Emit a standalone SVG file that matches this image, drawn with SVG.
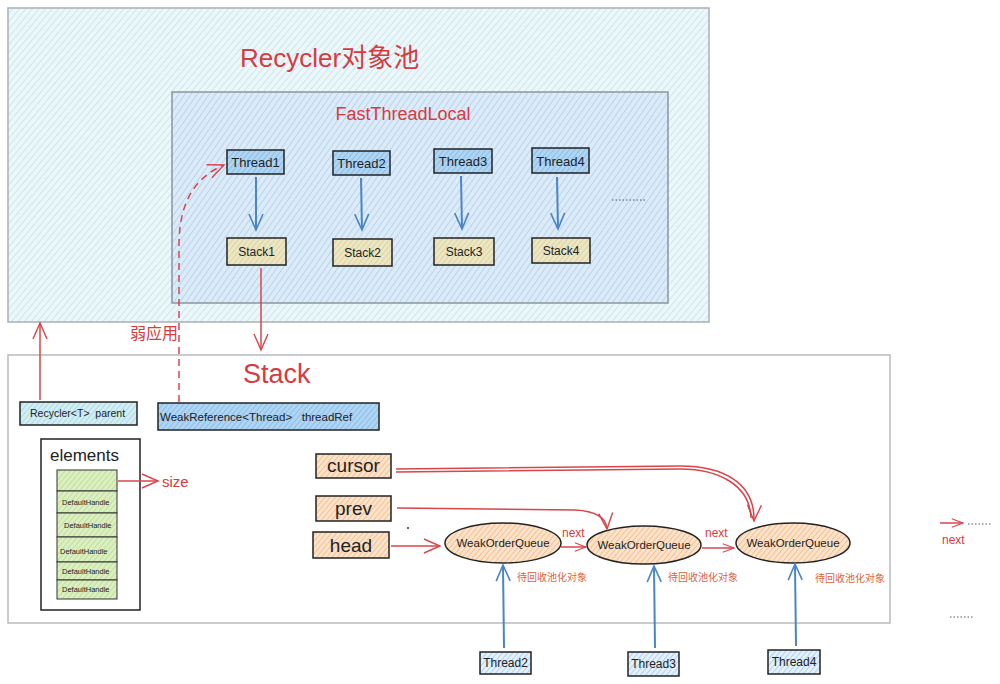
<svg xmlns="http://www.w3.org/2000/svg" width="1000" height="684" viewBox="0 0 1000 684">
<defs>
<pattern id="hOuter" width="5" height="5" patternUnits="userSpaceOnUse" patternTransform="rotate(40)"><rect width="5" height="5" fill="#ecf7fa"/><line x1="0" y1="0" x2="0" y2="5" stroke="#c4e4ee" stroke-width="1.6"/></pattern>
<pattern id="hInner" width="5" height="5" patternUnits="userSpaceOnUse" patternTransform="rotate(35)"><rect width="5" height="5" fill="#dcebf8"/><line x1="0" y1="0" x2="0" y2="5" stroke="#b6d1ec" stroke-width="1.8"/></pattern>
<pattern id="hThread" width="4" height="4" patternUnits="userSpaceOnUse" patternTransform="rotate(40)"><rect width="4" height="4" fill="#b0d5f3"/><line x1="0" y1="0" x2="0" y2="4" stroke="#7fb6e6" stroke-width="1.5"/></pattern>
<pattern id="hThreadB" width="4" height="4" patternUnits="userSpaceOnUse" patternTransform="rotate(40)"><rect width="4" height="4" fill="#e4f0fb"/><line x1="0" y1="0" x2="0" y2="4" stroke="#9fc8ee" stroke-width="1.5"/></pattern>
<pattern id="hStack" width="4" height="4" patternUnits="userSpaceOnUse" patternTransform="rotate(40)"><rect width="4" height="4" fill="#ece6c4"/><line x1="0" y1="0" x2="0" y2="4" stroke="#d6cf95" stroke-width="1.5"/></pattern>
<pattern id="hCyan" width="4" height="4" patternUnits="userSpaceOnUse" patternTransform="rotate(40)"><rect width="4" height="4" fill="#d3eef3"/><line x1="0" y1="0" x2="0" y2="4" stroke="#9fd5e2" stroke-width="1.5"/></pattern>
<pattern id="hGreen" width="4" height="4" patternUnits="userSpaceOnUse" patternTransform="rotate(40)"><rect width="4" height="4" fill="#dcefc3"/><line x1="0" y1="0" x2="0" y2="4" stroke="#b5dc8c" stroke-width="1.5"/></pattern>
<pattern id="hOrange" width="4" height="4" patternUnits="userSpaceOnUse" patternTransform="rotate(40)"><rect width="4" height="4" fill="#fbe2cb"/><line x1="0" y1="0" x2="0" y2="4" stroke="#f2b77f" stroke-width="1.5"/></pattern>
<marker id="aRed" viewBox="0 0 20 20" refX="18" refY="10" markerWidth="20" markerHeight="20" markerUnits="userSpaceOnUse" orient="auto"><path d="M2,3 L18,10 L2,17" fill="none" stroke="#d9454a" stroke-width="1.4"/></marker>
<marker id="aRedS" viewBox="0 0 20 20" refX="18" refY="10" markerWidth="14" markerHeight="14" markerUnits="userSpaceOnUse" orient="auto"><path d="M2,4 L18,10 L2,16" fill="none" stroke="#d9454a" stroke-width="1.6"/></marker>
<marker id="aBlue" viewBox="0 0 20 20" refX="18" refY="10" markerWidth="20" markerHeight="20" markerUnits="userSpaceOnUse" orient="auto"><path d="M2,3 L18,10 L2,17" fill="none" stroke="#4a86c5" stroke-width="1.6"/></marker>
</defs>
<style>
.lbl{font-family:"Liberation Sans",Arial,sans-serif;fill:#222;}
.red{font-family:"Liberation Sans","Noto Sans CJK SC",sans-serif;fill:#d63b40;}
.cjk{font-family:"Noto Sans CJK SC",sans-serif;}
.box{stroke:#222;stroke-width:1.5;}
.rl{fill:none;stroke:#d9454a;stroke-width:1.5;}
.bl{fill:none;stroke:#4a86c5;stroke-width:2;}
.dots{fill:none;stroke:#555;stroke-width:1.2;stroke-dasharray:1.5 2;}
</style>
<g id="recycler">
<rect x="8" y="8" width="701" height="314" fill="url(#hOuter)" stroke="#aab0b4" stroke-width="1.5"/>
<text class="red" x="240" y="67" font-size="26">Recycler对象池</text>
</g>
<g id="fastThreadLocal">
<rect x="172" y="92" width="496" height="211" fill="url(#hInner)" stroke="#8c979e" stroke-width="1.5"/>
<text class="red" x="403" y="120" font-size="18" text-anchor="middle">FastThreadLocal</text>
<line class="dots" x1="612" y1="200" x2="645" y2="200"/>
</g>
<g id="thread1"><rect class="box" x="227" y="150" width="57" height="24" fill="url(#hThread)"/><text class="lbl" x="255.5" y="167" font-size="13" text-anchor="middle">Thread1</text></g>
<g id="thread2"><rect class="box" x="333" y="151" width="57" height="24" fill="url(#hThread)"/><text class="lbl" x="361.5" y="168" font-size="13" text-anchor="middle">Thread2</text></g>
<g id="thread3"><rect class="box" x="434" y="149" width="58" height="24" fill="url(#hThread)"/><text class="lbl" x="463" y="166" font-size="13" text-anchor="middle">Thread3</text></g>
<g id="thread4"><rect class="box" x="532" y="148" width="57" height="25" fill="url(#hThread)"/><text class="lbl" x="560.5" y="165.5" font-size="13" text-anchor="middle">Thread4</text></g>
<g id="stack1"><rect class="box" x="227" y="238" width="59" height="27" fill="url(#hStack)"/><text class="lbl" x="256.5" y="256" font-size="12" text-anchor="middle">Stack1</text></g>
<g id="stack2"><rect class="box" x="333" y="239" width="59" height="27" fill="url(#hStack)"/><text class="lbl" x="362.5" y="257" font-size="12" text-anchor="middle">Stack2</text></g>
<g id="stack3"><rect class="box" x="434" y="238" width="60" height="27" fill="url(#hStack)"/><text class="lbl" x="464" y="256" font-size="12" text-anchor="middle">Stack3</text></g>
<g id="stack4"><rect class="box" x="532" y="238" width="58" height="25" fill="url(#hStack)"/><text class="lbl" x="561" y="255" font-size="12" text-anchor="middle">Stack4</text></g>
<g id="stack">
<rect x="8" y="355" width="882" height="268" fill="#ffffff" stroke="#b8bcbf" stroke-width="1.5"/>
<text class="red" x="243" y="383" font-size="27">Stack</text>
</g>
<g id="parent"><rect class="box" x="20" y="402" width="117" height="23" fill="url(#hCyan)"/><text class="lbl" x="30" y="417" font-size="10.5" xml:space="preserve">Recycler&lt;T&gt;  parent</text></g>
<g id="threadRef"><rect class="box" x="158" y="403" width="221" height="27" fill="url(#hThread)"/><text class="lbl" x="160" y="421" font-size="11.5" xml:space="preserve">WeakReference&lt;Thread&gt;   threadRef</text></g>
<g id="elements">
<rect x="41" y="439" width="99" height="171" fill="#ffffff" stroke="#222" stroke-width="1.5"/>
<text class="lbl" x="50" y="461" font-size="17">elements</text>
<rect x="57" y="470" width="60" height="21" fill="url(#hGreen)" stroke="#333" stroke-width="1"/>
<rect x="57" y="491" width="60" height="22" fill="url(#hGreen)" stroke="#333" stroke-width="1"/>
<rect x="57" y="513" width="60" height="24" fill="url(#hGreen)" stroke="#333" stroke-width="1"/>
<rect x="57" y="537" width="60" height="25" fill="url(#hGreen)" stroke="#333" stroke-width="1"/>
<rect x="57" y="562" width="60" height="18" fill="url(#hGreen)" stroke="#333" stroke-width="1"/>
<rect x="57" y="580" width="60" height="19" fill="url(#hGreen)" stroke="#333" stroke-width="1"/>
<text class="lbl" x="62" y="505" font-size="7.5">DefaultHandle</text>
<text class="lbl" x="64" y="528" font-size="7.5">DefaultHandle</text>
<text class="lbl" x="60" y="554" font-size="7.5">DefaultHandle</text>
<text class="lbl" x="62" y="574" font-size="7.5">DefaultHandle</text>
<text class="lbl" x="62" y="592" font-size="7.5">DefaultHandle</text>
<text class="red" x="162" y="487" font-size="15">size</text>
</g>
<g id="cursor"><rect class="box" x="316" y="454" width="75" height="24" fill="url(#hOrange)"/><text class="lbl" x="353.5" y="472" font-size="19" text-anchor="middle">cursor</text></g>
<g id="prev"><rect class="box" x="316" y="496" width="75" height="25" fill="url(#hOrange)"/><text class="lbl" x="353.5" y="515" font-size="19" text-anchor="middle">prev</text></g>
<g id="head"><rect class="box" x="313" y="532" width="76" height="26" fill="url(#hOrange)"/><text class="lbl" x="351" y="552" font-size="19" text-anchor="middle">head</text></g>
<circle cx="408" cy="528" r="1" fill="#333"/>
<g id="woq1"><ellipse cx="503" cy="543" rx="58" ry="20" fill="url(#hOrange)" stroke="#222" stroke-width="1.5"/><text class="lbl" x="503" y="547" font-size="11.5" text-anchor="middle">WeakOrderQueue</text>
<text class="cjk" x="517" y="581" font-size="10" fill="#e0603a">待回收池化对象</text></g>
<g id="woq2"><ellipse cx="644" cy="545" rx="57" ry="19" fill="url(#hOrange)" stroke="#222" stroke-width="1.5"/><text class="lbl" x="644" y="549" font-size="11.5" text-anchor="middle">WeakOrderQueue</text>
<text class="cjk" x="668" y="581" font-size="10" fill="#e0603a">待回收池化对象</text></g>
<g id="woq3"><ellipse cx="793" cy="543" rx="57" ry="20" fill="url(#hOrange)" stroke="#222" stroke-width="1.5"/><text class="lbl" x="793" y="547" font-size="11.5" text-anchor="middle">WeakOrderQueue</text>
<text class="cjk" x="815" y="582" font-size="10" fill="#e0603a">待回收池化对象</text></g>
<g id="tb2"><rect class="box" x="480" y="652" width="51" height="22" fill="url(#hThreadB)"/><text class="lbl" x="505.5" y="667" font-size="12" text-anchor="middle">Thread2</text></g>
<g id="tb3"><rect class="box" x="628" y="652" width="51" height="24" fill="url(#hThreadB)"/><text class="lbl" x="653.5" y="668" font-size="12" text-anchor="middle">Thread3</text></g>
<g id="tb4"><rect class="box" x="768" y="650" width="52" height="24" fill="url(#hThreadB)"/><text class="lbl" x="794" y="666" font-size="12" text-anchor="middle">Thread4</text></g>
<g id="connectors">
<line class="bl" x1="256" y1="177" x2="256" y2="230" marker-end="url(#aBlue)"/>
<line class="bl" x1="361" y1="178" x2="362" y2="230" marker-end="url(#aBlue)"/>
<line class="bl" x1="461" y1="176" x2="462" y2="229" marker-end="url(#aBlue)"/>
<line class="bl" x1="557" y1="177" x2="558" y2="229" marker-end="url(#aBlue)"/>
<line class="rl" x1="261" y1="268" x2="261" y2="350" marker-end="url(#aRed)"/>
<line class="rl" x1="40" y1="400" x2="40" y2="323" marker-end="url(#aRed)"/>
<path class="rl" d="M179,402 L179,245 C179,205 193,178 224,165" stroke-dasharray="7 5" marker-end="url(#aRed)"/>
<text class="red cjk" x="130" y="339" font-size="16">弱应用</text>
<line class="rl" x1="118" y1="481" x2="158" y2="481" marker-end="url(#aRed)"/>
<path class="rl" d="M396,469 L680,466 C725,466 755,484 754,521" marker-end="url(#aRed)"/>
<path class="rl" d="M396,472 L680,469 C720,469 750,486 751,518" stroke-width="0.8"/>
<path class="rl" d="M397,508 L575,510 C595,511 606,517 607,529" marker-end="url(#aRed)"/>
<line class="rl" x1="391" y1="546" x2="440" y2="546" marker-end="url(#aRed)"/>
<line class="rl" x1="561" y1="547" x2="586" y2="547" marker-end="url(#aRedS)"/>
<text class="red" x="562" y="537" font-size="12">next</text>
<line class="rl" x1="702" y1="548" x2="734" y2="548" marker-end="url(#aRedS)"/>
<text class="red" x="705" y="537" font-size="12">next</text>
<line class="bl" x1="504" y1="648" x2="503" y2="565" marker-end="url(#aBlue)"/>
<line class="bl" x1="655" y1="648" x2="654" y2="566" marker-end="url(#aBlue)"/>
<line class="bl" x1="796" y1="646" x2="795" y2="564" marker-end="url(#aBlue)"/>
<line class="rl" x1="940" y1="523" x2="963" y2="523" marker-end="url(#aRedS)"/>
<line class="dots" x1="968" y1="524" x2="992" y2="524"/>
<text class="red" x="942" y="544" font-size="12">next</text>
<line class="dots" x1="950" y1="617" x2="973" y2="617"/>
</g>
</svg>
